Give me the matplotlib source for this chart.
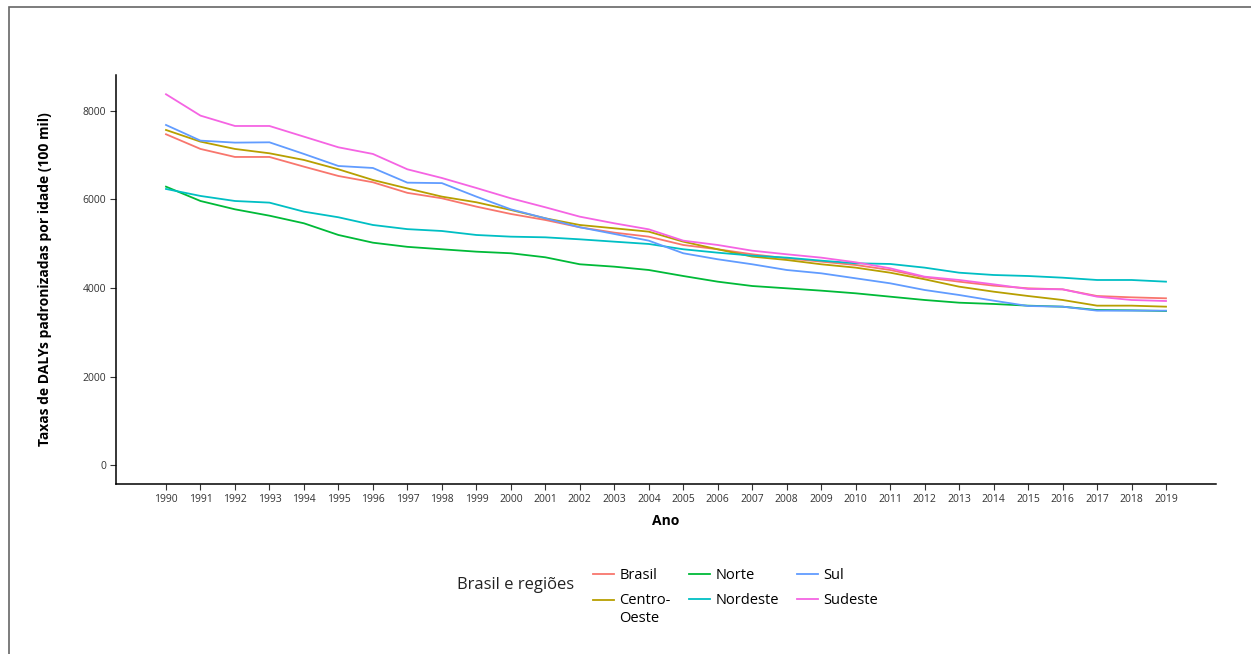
import numpy as np
import matplotlib.pyplot as plt
from matplotlib.lines import Line2D
from matplotlib.patches import Rectangle

plt.rcParams['font.family'] = ['Open Sans', 'DejaVu Sans']

anos = list(range(1990, 2020))

brasil = [7474, 7142, 6961, 6961, 6742, 6531, 6389, 6150, 6027, 5839,
          5673, 5537, 5372, 5251, 5160, 4972, 4875, 4762, 4671, 4596,
          4520, 4407, 4242, 4143, 4053, 3993, 3970, 3819, 3789, 3767]
centro_oeste = [7571, 7307, 7142, 7044, 6893, 6682, 6441, 6250, 6065, 5937,
                5763, 5575, 5424, 5349, 5273, 5047, 4875, 4709, 4633, 4536,
                4460, 4346, 4197, 4030, 3917, 3819, 3729, 3601, 3601, 3578]
norte = [6290, 5966, 5778, 5634, 5462, 5198, 5024, 4930, 4875, 4821,
         4785, 4694, 4536, 4482, 4407, 4271, 4143, 4045, 3993, 3940,
         3880, 3804, 3729, 3668, 3639, 3601, 3578, 3503, 3495, 3480]
nordeste = [6238, 6080, 5966, 5929, 5725, 5598, 5424, 5330, 5288, 5198,
            5160, 5145, 5100, 5047, 4995, 4875, 4798, 4731, 4686, 4618,
            4558, 4543, 4460, 4346, 4294, 4271, 4233, 4181, 4181, 4143]
sul = [7684, 7330, 7285, 7292, 7029, 6757, 6712, 6380, 6370, 6065,
       5778, 5575, 5372, 5221, 5070, 4785, 4649, 4536, 4407, 4332,
       4219, 4106, 3955, 3842, 3714, 3593, 3578, 3488, 3488, 3488]
sudeste = [8378, 7895, 7661, 7661, 7420, 7179, 7029, 6682, 6486, 6260,
           6027, 5824, 5612, 5462, 5326, 5070, 4972, 4843, 4762, 4686,
           4581, 4445, 4256, 4181, 4083, 3978, 3970, 3804, 3729, 3706]

series = [('Brasil', brasil, '#F8766D'),
          ('Centro-Oeste', centro_oeste, '#B79F00'),
          ('Norte', norte, '#00BA38'),
          ('Nordeste', nordeste, '#00BFC4'),
          ('Sul', sul, '#619CFF'),
          ('Sudeste', sudeste, '#F564E3')]

W, H = 1251, 654
fig = plt.figure(figsize=(W / 100, H / 100), dpi=100)
ax = fig.add_axes([116 / W, 1 - 484 / H, (1216 - 116) / W, (484 - 75) / H])

for nome, vals, cor in series:
    ax.plot(anos, vals, color=cor, lw=1.3, label=nome)

ax.set_xlim(1988.55, 2020.45)
ax.set_ylim(-429, 8813)
ax.set_xticks(anos)
ax.set_yticks([0, 2000, 4000, 6000, 8000])
ax.tick_params(axis='both', labelsize=7.5, colors='#333333', length=4,
               width=0.8, pad=3)
for s in ['top', 'right']:
    ax.spines[s].set_visible(False)
for s in ['left', 'bottom']:
    ax.spines[s].set_linewidth(1.1)
    ax.spines[s].set_color('black')

ax.set_xlabel('Ano', fontsize=10, fontweight='bold', labelpad=7)
ax.set_ylabel('Taxas de DALYs padronizadas por idade (100 mil)', fontsize=10,
              fontweight='bold', labelpad=22)

# legenda
ordem = ['Brasil', 'Centro-Oeste', 'Norte', 'Nordeste', 'Sul', 'Sudeste']
rotulos = {'Centro-Oeste': 'Centro-\nOeste'}
cores = {n: c for n, _, c in series}
handles = [Line2D([], [], color=cores[n], lw=1.3) for n in ordem]
labels = [rotulos.get(n, n) for n in ordem]
leg = fig.legend(handles, labels, ncol=3, frameon=False, fontsize=10.5,
                 loc='upper left', bbox_to_anchor=(580 / W, 1 - 555 / H),
                 handlelength=1.45, handletextpad=0.35, columnspacing=1.25,
                 labelspacing=0.7)
# traço do Centro-Oeste alinhado com a primeira linha do rótulo
h = leg.legend_handles[1]
h.set_ydata(np.asarray(h.get_ydata()) + 7)
fig.text(457 / W, 1 - 585 / H, 'Brasil e regiões', fontsize=12,
         va='center', ha='left', color='#222222')

# moldura
fig.patches.append(Rectangle((9 / W, -0.05), 1.2, 1.05 - 7 / H,
                             transform=fig.transFigure, fill=False,
                             edgecolor='#666666', lw=1.2))

fig.savefig('out.png', dpi=100)
